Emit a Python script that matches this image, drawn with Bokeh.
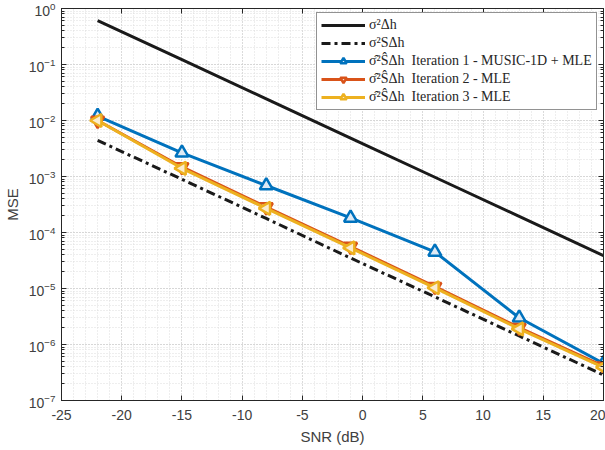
import numpy as np
from bokeh.plotting import figure
from bokeh.models import (LinearAxis, LogAxis, Legend, LegendItem, Range1d,
                          FixedTicker, LogTicker, ColumnDataSource)
from bokeh.embed import file_html
from bokeh.resources import INLINE

snr = [-22, -15, -8, -1, 6, 13, 20]
mse_dh = [0.61, 0.122, 0.0243, 0.00486, 9.7e-4, 1.94e-4, 3.86e-5]
mse_sdh = [4.4e-3, 8.9e-4, 1.78e-4, 3.5e-5, 7.1e-6, 1.42e-6, 2.85e-7]
iter1 = [1.2e-2, 2.65e-3, 6.9e-4, 1.82e-4, 4.5e-5, 3.0e-6, 4.6e-7]
iter2 = [1.0e-2, 1.48e-3, 2.85e-4, 5.6e-5, 1.08e-5, 2.0e-6, 4.1e-7]
iter3 = [1.0e-2, 1.40e-3, 2.70e-4, 5.3e-5, 1.03e-5, 1.9e-6, 3.9e-7]
x_ticks = [-25, -20, -15, -10, -5, 0, 5, 10, 15, 20]
x_tick_labels = ["-25", "-20", "-15", "-10", "-5", "0", "5", "10", "15", "20"]

labels = [
    "σ²Δh",
    "σ²SΔh",
    "σ̂²ŜΔh  Iteration 1 - MUSIC-1D + MLE",
    "σ̂²ŜΔh  Iteration 2 - MLE",
    "σ̂²ŜΔh  Iteration 3 - MLE",
]

BLUE = "#0072BD"
ORANGE = "#D95319"
YELLOW = "#EDB120"
AX = "#262626"
LBL = "#404040"
FONT = "Liberation Sans"

p = figure(width=605, height=450, y_axis_type="log",
           x_range=Range1d(-25, 20), y_range=Range1d(1e-7, 1),
           output_backend="svg", toolbar_location=None,
           min_border_left=61, min_border_right=2, min_border_top=8,
           min_border_bottom=50)
p.outline_line_color = None
p.background_fill_color = "white"

ds = ColumnDataSource(dict(x=snr, a=mse_dh, b=mse_sdh, c=iter1, d=iter2, e=iter3))

r1 = p.line("x", "a", source=ds, line_color="#1a1a1a", line_width=3)
r2 = p.line("x", "b", source=ds, line_color="#1a1a1a", line_width=3, line_dash="9 4 3 4")
r3 = p.line("x", "c", source=ds, line_color=BLUE, line_width=3)
m3 = p.scatter("x", "c", source=ds, marker="triangle", size=13, line_color=BLUE,
               line_width=2.5, fill_color="#dfeaf4")
r4 = p.line("x", "d", source=ds, line_color=ORANGE, line_width=3)
m4 = p.scatter("x", "d", source=ds, marker="inverted_triangle", size=13, line_color=ORANGE,
               line_width=2.5, fill_color="#f5ddd3")
r5 = p.line("x", "e", source=ds, line_color=YELLOW, line_width=3)
m5 = p.scatter("x", "e", source=ds, marker="triangle", angle=np.pi / 2, size=13,
               line_color=YELLOW, line_width=2.5, fill_color="#f9ecd0")

# axes styling
for ax in [p.xaxis[0], p.yaxis[0]]:
    ax.axis_line_color = AX
    ax.major_tick_line_color = AX
    ax.minor_tick_line_color = AX
    ax.major_tick_in = 5
    ax.major_tick_out = 0
    ax.minor_tick_in = 3
    ax.minor_tick_out = 0
    ax.major_label_text_font = FONT
    ax.major_label_text_font_size = "14px"
    ax.major_label_text_color = LBL
    ax.axis_label_text_font = FONT
    ax.axis_label_text_font_size = "15px"
    ax.axis_label_text_font_style = "normal"
    ax.axis_label_text_color = LBL

p.xaxis.ticker = FixedTicker(ticks=x_ticks, minor_ticks=list(range(-25, 21)))
p.xaxis.major_label_overrides = dict(zip(x_ticks, x_tick_labels))
p.xaxis[0].minor_tick_line_color = None
p.xaxis.axis_label = "SNR (dB)"
p.yaxis.axis_label = "MSE"
p.xaxis[0].major_label_standoff = 9
p.yaxis[0].major_label_standoff = 6

# box axes
top = LinearAxis(ticker=FixedTicker(ticks=x_ticks), major_label_text_color=None,
                 axis_line_color=AX, major_tick_line_color=AX, major_tick_in=5,
                 major_tick_out=0, minor_tick_line_color=None)
right = LogAxis(ticker=LogTicker(num_minor_ticks=10), major_label_text_color=None,
                axis_line_color=AX, major_tick_line_color=AX, major_tick_in=5,
                major_tick_out=0, minor_tick_line_color=AX, minor_tick_in=3,
                minor_tick_out=0)
top.major_label_text_font_size = "0px"
right.major_label_text_font_size = "0px"
top.major_label_standoff = 0
right.major_label_standoff = 0
p.add_layout(top, "above")
p.add_layout(right, "right")

# grids
p.xgrid.ticker = FixedTicker(ticks=x_ticks, minor_ticks=list(range(-25, 21)))
for g in [p.xgrid[0], p.ygrid[0]]:
    g.grid_line_color = "#c8c8c8"
    g.grid_line_dash = "1 2"
    g.grid_line_width = 1
    g.minor_grid_line_color = "#dcdcdc"
    g.minor_grid_line_dash = "1 2"
    g.minor_grid_line_width = 1

legend = Legend(items=[
    LegendItem(label=labels[0], renderers=[r1]),
    LegendItem(label=labels[1], renderers=[r2]),
    LegendItem(label=labels[2], renderers=[r3, m3]),
    LegendItem(label=labels[3], renderers=[r4, m4]),
    LegendItem(label=labels[4], renderers=[r5, m5]),
], location=(255, 290))
legend.label_text_font = "Liberation Serif"
legend.label_text_font_size = "14px"
legend.label_text_color = "#262626"
legend.border_line_color = "#262626"
legend.border_line_width = 1
legend.background_fill_alpha = 1
legend.glyph_width = 44
legend.glyph_height = 16
legend.label_height = 16
legend.spacing = 2
legend.padding = 4
legend.margin = 0
legend.label_standoff = 4
p.add_layout(legend)

open("out.html", "w").write(file_html(p, INLINE))
